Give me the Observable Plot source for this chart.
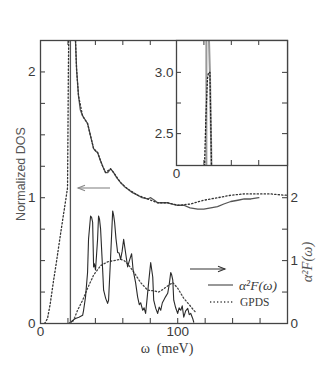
<!DOCTYPE html>
<html><head><meta charset="utf-8">
<script src="https://cdn.jsdelivr.net/npm/d3@7"></script>
<script src="https://cdn.jsdelivr.net/npm/@observablehq/plot@0.6"></script>
<style>
body{margin:0;background:#fff;}
#wrap{position:relative;width:327px;height:392px;background:#fff;}
#wrap > svg{position:absolute;}
</style></head><body><div id="wrap"></div>
<script>
// ---- data (ω in meV) ----
// Normalized tunnelling DOS, solid (left axis)
const dosSolid = [[21.8,0],[21.8,3.6],[23.0,3.6],[23.6,3.3],[24.4,3.0],[25.0,2.6],[25.5,2.25],[26.3,2.02],[27.7,1.81],[29,1.70],[30.7,1.65],[32.5,1.62],[34.3,1.59],[36.5,1.49],[38.7,1.39],[40.2,1.37],[41.6,1.36],[43.5,1.30],[45.3,1.25],[47.4,1.20],[49,1.20],[51.1,1.23],[53.3,1.20],[55.5,1.16],[58.4,1.12],[61,1.09],[63.5,1.07],[67,1.04],[70.8,1.02],[74,1.00],[78.1,0.99],[80.3,1.00],[83,0.98],[85.4,0.96],[89,0.96],[92.7,0.96],[96,0.95],[100,0.94],[104.4,0.94],[109,0.92],[114.6,0.91],[119,0.91],[124.1,0.92],[129,0.93],[133.6,0.95],[138.7,0.97],[143.8,0.98],[148.5,0.99],[153.3,0.99],[159.1,1.00]];
// Normalized DOS, dotted (left axis)
const dosDotted = [[3,0],[5.1,0.04],[7,0.15],[9.5,0.34],[11.5,0.48],[13.1,0.60],[15,0.74],[16.8,0.87],[18.5,0.99],[19.7,1.08],[20.0,1.5],[20.3,2.0],[20.6,2.3],[21.5,2.65],[22.6,2.95],[23.4,3.0],[24.4,3.0],[25.0,2.6],[25.5,2.25],[26.3,2.02],[27.7,1.81],[30.7,1.65],[34.3,1.59],[38.7,1.39],[41.6,1.36],[45.3,1.25],[47.4,1.20],[51.1,1.23],[53.3,1.20],[58.4,1.12],[63.5,1.07],[70.8,1.02],[78.1,0.99],[85.4,0.96],[92.7,0.96],[100,0.94],[102.2,0.94],[105,0.945],[109.5,0.95],[114,0.965],[119,0.98],[124,0.99],[129.2,1.00],[134,1.01],[138.7,1.02],[148.2,1.03],[158.4,1.03],[167.9,1.03],[173,1.025],[177.4,1.02],[180,1.02]];
// α²F(ω) (right axis)
const a2F = [[20.5,0],[21.9,0.02],[23.5,0.05],[25.5,0.08],[28,0.1],[30.7,0.13],[31.4,0.21],[32.8,0.42],[34.3,0.81],[35.0,1.34],[36.5,1.71],[37.2,1.69],[38.0,1.61],[38.7,0.90],[39.3,0.95],[40.1,0.85],[41.6,1.34],[42.3,1.71],[43.0,1.66],[43.8,1.50],[45.3,0.85],[46.0,0.53],[47.5,0.4],[48.9,0.32],[49.6,0.37],[51.1,1.06],[52.6,1.79],[53.3,1.72],[54.0,1.61],[55,1.35],[56.2,1.13],[57.3,1.12],[58.4,1.02],[59.5,1.15],[60.6,1.34],[61.5,1.2],[63.5,0.90],[64.5,0.98],[66.4,1.11],[67.5,0.85],[69.3,0.65],[70.8,0.42],[72,0.3],[73,0.33],[74.5,0.21],[75.5,0.25],[76.6,0.16],[77.7,0.4],[78.8,0.65],[80.3,0.97],[81.8,0.74],[82.5,0.37],[84,0.24],[85.4,0.16],[86.5,0.26],[87.6,0.21],[88.8,0.33],[89.8,0.37],[91,0.42],[92.7,0.48],[93.8,0.62],[94.9,0.81],[95.5,0.78],[96.4,0.69],[97.1,0.37],[98.5,0.25],[100,0.16],[101,0.25],[102.2,0.21],[103.3,0.28],[104.4,0.10],[105.8,0.2],[107.3,0.24],[108.4,0.14],[109.5,0.16],[110.9,0.08],[111.7,0.02]];
// GPDS (right axis)
const gpds = [[21.5,0],[23.4,0.03],[25,0.1],[27.0,0.21],[30.7,0.37],[34.3,0.56],[38.7,0.77],[43.8,0.92],[48.9,0.98],[53.3,1.00],[58.4,1.02],[61,1.0],[63.5,0.95],[67.9,0.82],[73.0,0.65],[78.1,0.53],[82.5,0.52],[86.1,0.50],[89.8,0.55],[93.4,0.61],[96.4,0.65],[100,0.56],[104.4,0.40],[108,0.31],[111.7,0.21],[113,0.18]];

// ticks & labels
const xTicks = [20,40,60,80,100,120,140,160];
const xLabels = [0,100];
const yTicksLeft = [0.25,0.5,0.75,1,1.25,1.5,1.75,2];
const yLabelsLeft = [0,1,2];
const yTicksRight = [0.5,1,1.5,2];
const yLabelsRight = [0,1,2];
const insetXTicks = [20,40,60];
const insetXLabels = [0];
const insetYTicks = [2.5,2.75,3.0];
const insetYLabels = [2.5,3.0];
const rightPerLeft = 2; // α²F axis value = 2 × DOS axis value

const sans = "'Liberation Sans', Arial, Helvetica, sans-serif";
const serif = "'Liberation Serif', 'Times New Roman', serif";
const ink = "#3a3a3a";
const dotDash = "1.3,2.2";

const W = 327, H = 392, mL = 40, mR = 40, mT = 40, mB = 69;
const fw = W - mL - mR, fh = H - mT - mB;
const tk = 5;

const main = Plot.plot({
  width: W, height: H,
  marginLeft: mL, marginRight: mR, marginTop: mT, marginBottom: mB,
  x: {domain: [0, 180], axis: null},
  y: {domain: [0, 2.25], axis: null},
  style: {fontFamily: sans, fontSize: "13.5px", color: ink, background: "white", overflow: "visible"},
  marks: [
    Plot.tickX(xTicks, {x: d => d, insetTop: fh - tk, stroke: ink}),
    Plot.tickX(xTicks, {x: d => d, insetBottom: fh - tk, stroke: ink}),
    Plot.tickY(yTicksLeft, {y: d => d, insetRight: fw - tk, stroke: ink}),
    Plot.tickY(yTicksRight, {y: d => d / rightPerLeft, insetLeft: fw - tk, stroke: ink}),
    Plot.axisX(xLabels, {anchor: "bottom", tickSize: 0, tickPadding: 3, tickFormat: d => String(d), label: null}),
    Plot.axisY(yLabelsLeft, {anchor: "left", tickSize: 0, tickPadding: 5, tickFormat: d => String(d), label: null}),
    Plot.axisY(yLabelsRight.map(v => v / rightPerLeft), {anchor: "right", tickSize: 0, tickPadding: 3, tickFormat: d => String(d * rightPerLeft), label: null}),
    Plot.line(gpds, {x: d => d[0], y: d => d[1] / rightPerLeft, stroke: "#444", strokeWidth: 1.3, strokeDasharray: dotDash, clip: true}),
    Plot.line(a2F, {x: d => d[0], y: d => d[1] / rightPerLeft, stroke: "#2a2a2a", strokeWidth: 1.1, clip: true}),
    Plot.line(dosSolid, {x: d => d[0], y: d => d[1], stroke: "#555", strokeWidth: 1.3, clip: true}),
    Plot.line(dosDotted, {x: d => d[0], y: d => d[1], stroke: "#333", strokeWidth: 1.3, strokeDasharray: dotDash, clip: true}),
    Plot.frame({stroke: "#444", strokeWidth: 1.3}),
    Plot.text(["Normalized DOS"], {frameAnchor: "left", dx: -20, dy: -8, rotate: -90, fontSize: 12.5, fill: "#555", lineAnchor: "middle", textAnchor: "middle"}),
    Plot.text(["α²F(ω)"], {frameAnchor: "right", dx: 20, dy: 80, rotate: -90, fontSize: 14.5, fontFamily: serif, fontStyle: "italic", fill: "#555", lineAnchor: "middle", textAnchor: "middle"}),
    Plot.text(["ω  (meV)"], {frameAnchor: "bottom", dx: 3, dy: 25, fontSize: 14, fontFamily: serif, fill: ink, lineAnchor: "middle", textAnchor: "middle"})
  ]
});

// inset
const iL = 30, iR = 10, iT = 10, iB = 20, iW = 151, iH = 155;
const ifw = iW - iL - iR, ifh = iH - iT - iB;
const inset = Plot.plot({
  width: iW, height: iH,
  marginLeft: iL, marginRight: iR, marginTop: iT, marginBottom: iB,
  x: {domain: [0, 81], axis: null},
  y: {domain: [2.24, 3.26], axis: null},
  style: {fontFamily: sans, fontSize: "13.5px", color: ink, background: "transparent", overflow: "visible"},
  marks: [
    Plot.frame({fill: "white", stroke: "none"}),
    Plot.tickX(insetXTicks, {x: d => d, insetTop: ifh - tk, stroke: ink}),
    Plot.tickX(insetXTicks, {x: d => d, insetBottom: ifh - tk, stroke: ink}),
    Plot.tickY(insetYTicks, {y: d => d, insetRight: ifw - tk, stroke: ink}),
    Plot.tickY(insetYTicks, {y: d => d, insetLeft: ifw - tk, stroke: ink}),
    Plot.axisX(insetXLabels, {anchor: "bottom", tickSize: 0, tickPadding: 3, tickFormat: d => String(d), label: null}),
    Plot.axisY(insetYLabels, {anchor: "left", tickSize: 0, tickPadding: 3, tickFormat: d3.format(".1f"), label: null}),
    Plot.line(dosSolid, {x: d => d[0], y: d => d[1], stroke: "#999", strokeWidth: 2, clip: true}),
    Plot.line(dosDotted, {x: d => d[0], y: d => d[1], stroke: "#222", strokeWidth: 1.3, strokeDasharray: dotDash, clip: true}),
    Plot.frame({stroke: "#444", strokeWidth: 1.3})
  ]
});

const wrap = document.getElementById("wrap");
main.style.left = "0px"; main.style.top = "0px";
wrap.appendChild(main);
inset.style.left = (mL + 136 - iL) + "px"; inset.style.top = (mT - iT) + "px";
wrap.appendChild(inset);

// annotations: arrows and legend
const ov = d3.select(wrap).append("svg").attr("width", W).attr("height", H)
  .style("left", "0px").style("top", "0px").style("pointer-events", "none");
function arrow(x1, x2, y, color) {
  const dir = Math.sign(x2 - x1);
  ov.append("line").attr("x1", x1).attr("x2", x2).attr("y1", y).attr("y2", y).attr("stroke", color).attr("stroke-width", 1.1);
  ov.append("path").attr("d", `M${x2 - dir * 7},${y - 2.8}L${x2},${y}L${x2 - dir * 7},${y + 2.8}`)
    .attr("fill", "none").attr("stroke", color).attr("stroke-width", 1.1);
}
arrow(110, 78, 188, "#888");
arrow(190, 225, 269, "#333");
const lg = ov.append("g");
lg.append("line").attr("x1", 208).attr("x2", 233).attr("y1", 285).attr("y2", 285).attr("stroke", "#444").attr("stroke-width", 1.1);
lg.append("line").attr("x1", 210).attr("x2", 233).attr("y1", 302).attr("y2", 302).attr("stroke", "#444").attr("stroke-width", 1.3).attr("stroke-dasharray", dotDash);
lg.append("text").attr("x", 239).attr("y", 289.5).attr("font-family", serif).attr("font-style", "italic").attr("font-size", 13.5).attr("fill", ink).text("α²F(ω)");
lg.append("text").attr("x", 240).attr("y", 306).attr("font-family", serif).attr("font-size", 11.5).attr("fill", ink).text("GPDS");
</script></body></html>
